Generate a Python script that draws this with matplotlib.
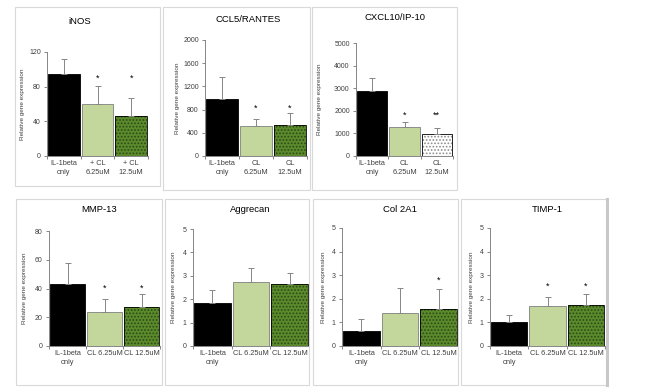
import matplotlib.pyplot as plt
from matplotlib.patches import Rectangle
from matplotlib.lines import Line2D

plt.rcParams['font.family'] = ['Liberation Sans', 'DejaVu Sans']
plt.rcParams['hatch.linewidth'] = 0.8

W, H = 646, 392

# --- dados ---
labels_inos = ['IL-1beta\nonly', '+ CL\n6.25uM', '+ CL\n12.5uM']
labels_top = ['IL-1beta\nonly', 'CL\n6.25uM', 'CL\n12.5uM']
labels_bottom = ['IL-1beta\nonly', 'CL 6.25uM', 'CL 12.5uM']

inos_mean = [95, 60, 46]
inos_err = [17, 21, 21]
inos_stars = ['', '*', '*']

ccl5_mean = [980, 510, 540]
ccl5_err = [390, 120, 200]
ccl5_stars = ['', '*', '*']

cxcl10_mean = [2870, 1300, 980]
cxcl10_err = [560, 200, 240]
cxcl10_stars = ['', '*', '**']

mmp13_mean = [43, 23.5, 27]
mmp13_err = [15, 9, 9]
mmp13_stars = ['', '*', '*']

aggrecan_mean = [1.85, 2.75, 2.63]
aggrecan_err = [0.53, 0.6, 0.47]
aggrecan_stars = ['', '', '']

col2a1_mean = [0.62, 1.4, 1.58]
col2a1_err = [0.51, 1.07, 0.84]
col2a1_stars = ['', '', '*']

timp1_mean = [1.03, 1.68, 1.72]
timp1_err = [0.27, 0.4, 0.48]
timp1_stars = ['', '*', '*']

# (titulo, medias, erros, estrelas, altura estrela, rotulos, yticks, 3a barra pontilhada branca?)
paineis = [
    ('iNOS', inos_mean, inos_err, inos_stars, 90, labels_inos, [0, 40, 80, 120], False),
    ('CCL5/RANTES', ccl5_mean, ccl5_err, ccl5_stars, 820, labels_top, [0, 400, 800, 1200, 1600, 2000], False),
    ('CXCL10/IP-10', cxcl10_mean, cxcl10_err, cxcl10_stars, 1820, labels_top, [0, 1000, 2000, 3000, 4000, 5000], True),
    ('MMP-13', mmp13_mean, mmp13_err, mmp13_stars, 40, labels_bottom, [0, 20, 40, 60, 80], False),
    ('Aggrecan', aggrecan_mean, aggrecan_err, aggrecan_stars, 0, labels_bottom, [0, 1, 2, 3, 4, 5], False),
    ('Col 2A1', col2a1_mean, col2a1_err, col2a1_stars, 2.8, labels_bottom, [0, 1, 2, 3, 4, 5], False),
    ('TIMP-1', timp1_mean, timp1_err, timp1_stars, 2.55, labels_bottom, [0, 1, 2, 3, 4, 5], False),
]

# layout em pixels: caixa (x0, y0, x1, y1), eixos (esq, topo, dir, base), titulo (x, y), x do ylabel
layout = [
    ((15, 7, 160, 186), (47, 52, 148, 156), (80, 22), 23),
    ((163, 7, 310, 190), (205, 40, 307, 156), (248, 19), 177),
    ((312, 7, 457, 190), (356, 43, 453, 156), (395, 18), 320),
    ((16, 199, 162, 385), (49, 231, 160, 346), (99, 210), 25),
    ((165, 199, 309, 385), (193, 229, 309, 346), (250, 210), 173),
    ((313, 199, 458, 385), (342, 228, 458, 346), (400, 210), 323),
    ((461, 199, 607, 385), (490, 228, 605, 346), (547, 210), 472),
]

cinza = '#868686'
texto = '#404040'
verde_claro = '#c3d69b'
verde_escuro = '#5a8a2c'
pontos_escuro = '#2c4a12'

fig = plt.figure(figsize=(W / 100, H / 100), dpi=100)

for (titulo, medias, erros, estrelas, h_estrela, rotulos, yticks, pontilhado), \
        (caixa, eixo, pos_tit, x_ylab) in zip(paineis, layout):
    x0, y0, x1, y1 = caixa
    fig.add_artist(Rectangle((x0 / W, 1 - y1 / H), (x1 - x0) / W, (y1 - y0) / H,
                             transform=fig.transFigure, fill=False, ec='#d9d9d9', lw=0.8))

    l, t, r, b = eixo
    ax = fig.add_axes([l / W, 1 - b / H, (r - l) / W, (b - t) / H])
    xs = [0, 1, 2]
    larg = 0.94

    ax.bar(xs[0], medias[0], larg, color='black', ec='black', lw=0.6, zorder=2)
    ax.bar(xs[1], medias[1], larg, color=verde_claro, ec='#7f7f7f', lw=0.6, zorder=2)
    if pontilhado:
        ax.bar(xs[2], medias[2], larg, color='white', ec='#8c8c8c', hatch='.....', lw=0, zorder=2)
    else:
        ax.bar(xs[2], medias[2], larg, color=verde_escuro, ec=pontos_escuro, hatch='.....', lw=0, zorder=2)
    ax.bar(xs[2], medias[2], larg, fill=False, ec='black', lw=0.6, zorder=3)

    ax.errorbar(xs, medias, yerr=[[0, 0, 0], erros], fmt='none', ecolor=cinza,
                elinewidth=0.7, capsize=2, capthick=0.7, zorder=4)

    for x, s in zip(xs, estrelas):
        if s:
            ax.text(x, h_estrela, s, ha='center', va='center', fontsize=6.5, color='black', zorder=5)

    ax.set_xlim(-0.5, 2.5)
    ax.set_ylim(0, yticks[-1])
    ax.set_yticks(yticks)
    ax.set_xticks(xs)
    ax.set_xticklabels(rotulos, fontsize=5.3, color=texto, linespacing=1.3)
    ax.set_xticks([-0.5, 0.5, 1.5, 2.5], minor=True)
    ax.tick_params(axis='x', which='major', length=0, pad=3)
    ax.tick_params(axis='x', which='minor', length=2.5, width=0.7, color=cinza, direction='out')
    ax.tick_params(axis='y', length=2.5, width=0.7, color=cinza, labelsize=5, labelcolor=texto, pad=2)
    for lado in ['top', 'right']:
        ax.spines[lado].set_visible(False)
    for lado in ['left', 'bottom']:
        ax.spines[lado].set_color(cinza)
        ax.spines[lado].set_linewidth(0.7)
    ax.patch.set_alpha(0)

    fig.text(pos_tit[0] / W, 1 - pos_tit[1] / H, titulo, ha='center', va='center',
             fontsize=6.8, color='black')
    fig.text(x_ylab / W, 1 - (t + b) / 2 / H, 'Relative gene expression', rotation=90,
             ha='center', va='center', fontsize=4.6, color=texto)

# borda direita mais grossa do painel TIMP-1
fig.add_artist(Line2D([607 / W, 607 / W], [1 - 385 / H, 1 - 199 / H], transform=fig.transFigure,
                      color='#c8c8c8', lw=2.2))

fig.savefig('out.png', dpi=100)
